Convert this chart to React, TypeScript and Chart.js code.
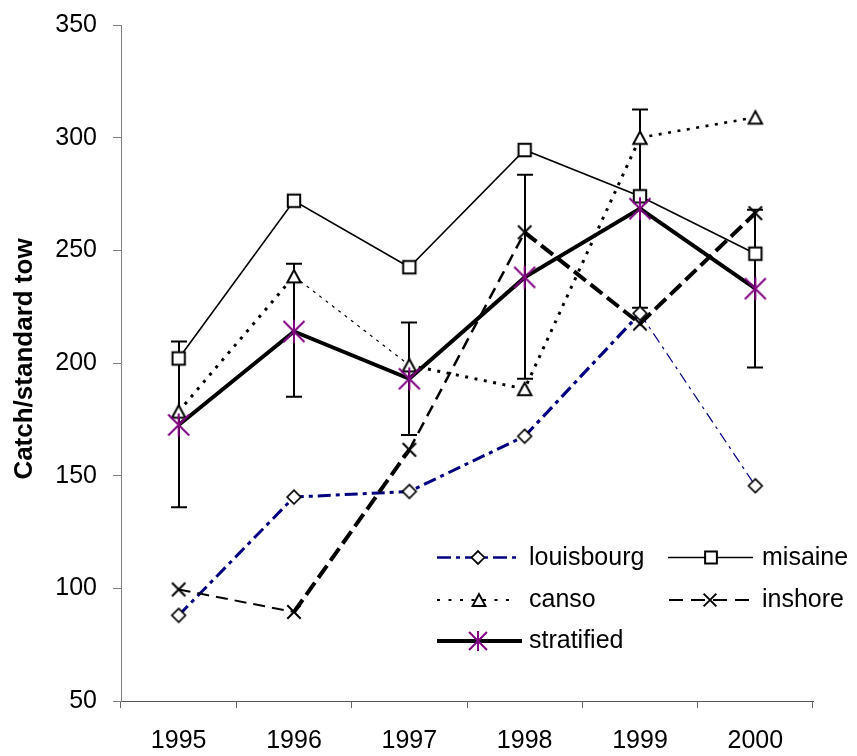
import React, { useEffect, useRef } from 'react';
import { Chart, registerables } from 'chart.js';

Chart.register(...registerables);

// ---------- data ----------
const years = ['1995', '1996', '1997', '1998', '1999', '2000'];
const louisbourg = [88, 140.5, 143, 167.5, 222, 145.5];
const misaine = [202, 272, 242.5, 294.5, 274, 248.5];
const canso = [178.5, 238.5, 199, 188.5, 300, 309];
const inshore = [99.5, 89.5, 161.5, 258, 217.5, 266.5];
const stratified = [172.5, 214, 193, 238, 268.5, 233];
const stratifiedLow = [136, 185, 168, 193, 224.5, 198];
const stratifiedHigh = [209.5, 244, 218, 283.5, 312.5, 268];
const yMin = 50;
const yMax = 350;
const yStep = 50;
const yTitle = 'Catch/standard tow';

const FONT = '"Liberation Sans", Arial, Helvetica, sans-serif';

type MarkerKind = 'diamond' | 'square' | 'triangle' | 'x' | 'star';

function drawMarker(ctx: CanvasRenderingContext2D, kind: MarkerKind, x: number, y: number, s = 1) {
  ctx.save();
  ctx.setLineDash([]);
  ctx.lineJoin = 'miter';
  ctx.lineCap = 'butt';
  ctx.strokeStyle = '#000';
  ctx.fillStyle = '#fff';
  if (kind === 'diamond') {
    const h = 6.8 * s;
    ctx.beginPath();
    ctx.moveTo(x, y - h);
    ctx.lineTo(x + h, y);
    ctx.lineTo(x, y + h);
    ctx.lineTo(x - h, y);
    ctx.closePath();
    ctx.fill();
    ctx.lineWidth = 1.7;
    ctx.stroke();
  } else if (kind === 'square') {
    const h = 6.2 * s;
    ctx.beginPath();
    ctx.rect(x - h, y - h, 2 * h, 2 * h);
    ctx.fill();
    ctx.lineWidth = 2;
    ctx.stroke();
  } else if (kind === 'triangle') {
    const h = 6.2 * s;
    ctx.beginPath();
    ctx.moveTo(x, y - h);
    ctx.lineTo(x + 6.7 * s, y + h);
    ctx.lineTo(x - 6.7 * s, y + h);
    ctx.closePath();
    ctx.fill();
    ctx.lineWidth = 2;
    ctx.stroke();
  } else if (kind === 'x') {
    const h = 6.7 * s;
    ctx.beginPath();
    ctx.moveTo(x - h, y - h);
    ctx.lineTo(x + h, y + h);
    ctx.moveTo(x + h, y - h);
    ctx.lineTo(x - h, y + h);
    ctx.lineWidth = 2;
    ctx.stroke();
  } else if (kind === 'star') {
    const h = 10.5 * s;
    ctx.strokeStyle = '#800080';
    ctx.beginPath();
    ctx.moveTo(x - h, y - h);
    ctx.lineTo(x + h, y + h);
    ctx.moveTo(x + h, y - h);
    ctx.lineTo(x - h, y + h);
    ctx.moveTo(x, y - h - 1);
    ctx.lineTo(x, y + h + 1);
    ctx.lineWidth = 2;
    ctx.stroke();
  }
  ctx.restore();
}

function markerCanvas(kind: MarkerKind): HTMLCanvasElement {
  const c = document.createElement('canvas');
  c.width = 32;
  c.height = 32;
  const ctx = c.getContext('2d')!;
  drawMarker(ctx, kind, 16, 16);
  return c;
}

export default function App() {
  const ref = useRef<HTMLCanvasElement | null>(null);

  useEffect(() => {
    if (!ref.current) return;

    const louisWidths = [3, 3, 3, 3.2, 1.2];
    const cansoWidths = [3, 1.2, 3, 3, 2.6];
    const inshoreWidths = [2, 4, 2.5, 4, 4];

    const errorBars = {
      id: 'errorBars',
      beforeDatasetsDraw(chart: any) {
        const idx = chart.data.datasets.findIndex((d: any) => d.label === 'stratified');
        const meta = chart.getDatasetMeta(idx);
        const ys = chart.scales.y;
        const ctx = chart.ctx;
        ctx.save();
        ctx.strokeStyle = '#000';
        ctx.lineWidth = 2;
        ctx.setLineDash([]);
        meta.data.forEach((pt: any, i: number) => {
          const yl = ys.getPixelForValue(stratifiedLow[i]);
          const yh = ys.getPixelForValue(stratifiedHigh[i]);
          const x = Math.round(pt.x);
          ctx.beginPath();
          ctx.moveTo(x, yl);
          ctx.lineTo(x, yh);
          ctx.moveTo(x - 8, yl);
          ctx.lineTo(x + 8, yl);
          ctx.moveTo(x - 8, yh);
          ctx.lineTo(x + 8, yh);
          ctx.stroke();
        });
        ctx.restore();
      },
    };

    const legendItems = [
      { label: 'louisbourg', marker: 'diamond', color: '#000080', width: 2.5, dash: [14, 5, 4, 5], x1: 437, x2: 520, mx: 478, y: 557.5, tx: 529 },
      { label: 'misaine', marker: 'square', color: '#000', width: 1.6, dash: [], x1: 668, x2: 753, mx: 711, y: 557.5, tx: 762 },
      { label: 'canso', marker: 'triangle', color: '#000', width: 2, dash: [3, 8.5], x1: 437, x2: 513, mx: 479, y: 600, tx: 529 },
      { label: 'inshore', marker: 'x', color: '#000', width: 2, dash: [14, 8], x1: 669, x2: 749, mx: 710, y: 600, tx: 762 },
      { label: 'stratified', marker: 'star', color: '#000', width: 4, dash: [], x1: 437, x2: 522, mx: 478, y: 641, tx: 529 },
    ];

    const customLegend = {
      id: 'customLegend',
      afterDatasetsDraw(chart: any) {
        const ctx = chart.ctx;
        legendItems.forEach((it) => {
          ctx.save();
          ctx.strokeStyle = it.color;
          ctx.lineWidth = it.width;
          ctx.lineCap = 'butt';
          ctx.setLineDash(it.dash);
          ctx.beginPath();
          ctx.moveTo(it.x1, it.y);
          ctx.lineTo(it.x2, it.y);
          ctx.stroke();
          ctx.restore();
          drawMarker(ctx, it.marker as MarkerKind, it.mx, it.y, it.marker === 'star' ? 0.85 : 0.95);
          ctx.save();
          ctx.fillStyle = '#000';
          ctx.font = `25px ${FONT}`;
          ctx.textAlign = 'left';
          ctx.textBaseline = 'alphabetic';
          ctx.fillText(it.label, it.tx, it.y + 7);
          ctx.restore();
        });
      },
    };

    const yTitlePlugin = {
      id: 'yTitlePlugin',
      afterDraw(chart: any) {
        const ctx = chart.ctx;
        ctx.save();
        ctx.translate(31.5, 359);
        ctx.rotate(-Math.PI / 2);
        ctx.font = `bold 26px ${FONT}`;
        ctx.fillStyle = '#000';
        ctx.textAlign = 'center';
        ctx.textBaseline = 'alphabetic';
        ctx.fillText(yTitle, 0, 0);
        ctx.restore();
      },
    };

    const chart = new Chart(ref.current, {
      type: 'line',
      data: {
        labels: years,
        datasets: [
          {
            label: 'louisbourg',
            data: louisbourg,
            borderColor: '#000080',
            borderWidth: 3,
            borderDash: [13, 5, 4, 5],
            pointStyle: markerCanvas('diamond'),
            pointRadius: 6,
            fill: false,
            tension: 0,
            order: 4,
            segment: {
              borderWidth: (c: any) => louisWidths[c.p0DataIndex],
              borderDash: (c: any) => (c.p0DataIndex === 4 ? [11, 5, 3, 5] : [13, 5, 4, 5]),
            },
          },
          {
            label: 'misaine',
            data: misaine,
            borderColor: '#000',
            borderWidth: 1.6,
            pointStyle: markerCanvas('square'),
            pointRadius: 6,
            fill: false,
            tension: 0,
            order: 3,
          },
          {
            label: 'canso',
            data: canso,
            borderColor: '#000',
            borderWidth: 3,
            borderDash: [3, 6],
            pointStyle: markerCanvas('triangle'),
            pointRadius: 6,
            fill: false,
            tension: 0,
            order: 2,
            segment: {
              borderWidth: (c: any) => cansoWidths[c.p0DataIndex],
              borderDash: (c: any) => (c.p0DataIndex === 1 ? [3, 5] : [3, 6.5]),
            },
          },
          {
            label: 'inshore',
            data: inshore,
            borderColor: '#000',
            borderWidth: 3,
            borderDash: [13, 7],
            pointStyle: markerCanvas('x'),
            pointRadius: 6,
            fill: false,
            tension: 0,
            order: 1,
            segment: {
              borderWidth: (c: any) => inshoreWidths[c.p0DataIndex],
              borderDash: (c: any) => (inshoreWidths[c.p0DataIndex] >= 4 ? [15, 6] : [12, 7]),
            },
          },
          {
            label: 'stratified',
            data: stratified,
            borderColor: '#000',
            borderWidth: 4,
            pointStyle: markerCanvas('star'),
            pointRadius: 10,
            fill: false,
            tension: 0,
            order: 0,
          },
        ],
      },
      options: {
        animation: false,
        responsive: false,
        devicePixelRatio: 1,
        events: [],
        layout: { padding: { top: 25, right: 44, left: 0, bottom: 0 } },
        plugins: {
          legend: { display: false },
          tooltip: { enabled: false },
          title: { display: false },
        },
        scales: {
          x: {
            type: 'category',
            offset: true,
            grid: {
              offset: true,
              drawOnChartArea: false,
              drawTicks: true,
              tickLength: 7,
              color: '#666',
              lineWidth: 1,
            },
            border: { display: true, color: '#555', width: 1 },
            ticks: {
              color: '#000',
              font: { family: FONT, size: 25 },
              padding: 18,
              maxRotation: 0,
              autoSkip: false,
            },
            afterFit(scale: any) {
              scale.height = 55;
              scale.paddingLeft = 0;
              scale.paddingRight = 0;
            },
          },
          y: {
            min: yMin,
            max: yMax,
            grid: {
              drawOnChartArea: false,
              drawTicks: true,
              tickLength: 8,
              color: '#808080',
              lineWidth: 1,
            },
            border: { display: true, color: '#808080', width: 1 },
            ticks: {
              stepSize: yStep,
              color: '#000',
              font: { family: FONT, size: 25 },
              padding: 16,
            },
            title: { display: false },
            afterFit(scale: any) {
              scale.width = 121;
              scale.paddingTop = 0;
              scale.paddingBottom = 0;
            },
          },
        },
      },
      plugins: [errorBars, customLegend, yTitlePlugin],
    } as any);

    return () => chart.destroy();
  }, []);

  return (
    <div style={{ position: 'absolute', left: 0, top: 0, width: 857, height: 756, background: '#fff' }}>
      <canvas ref={ref} width={857} height={756} style={{ display: 'block' }} />
    </div>
  );
}
